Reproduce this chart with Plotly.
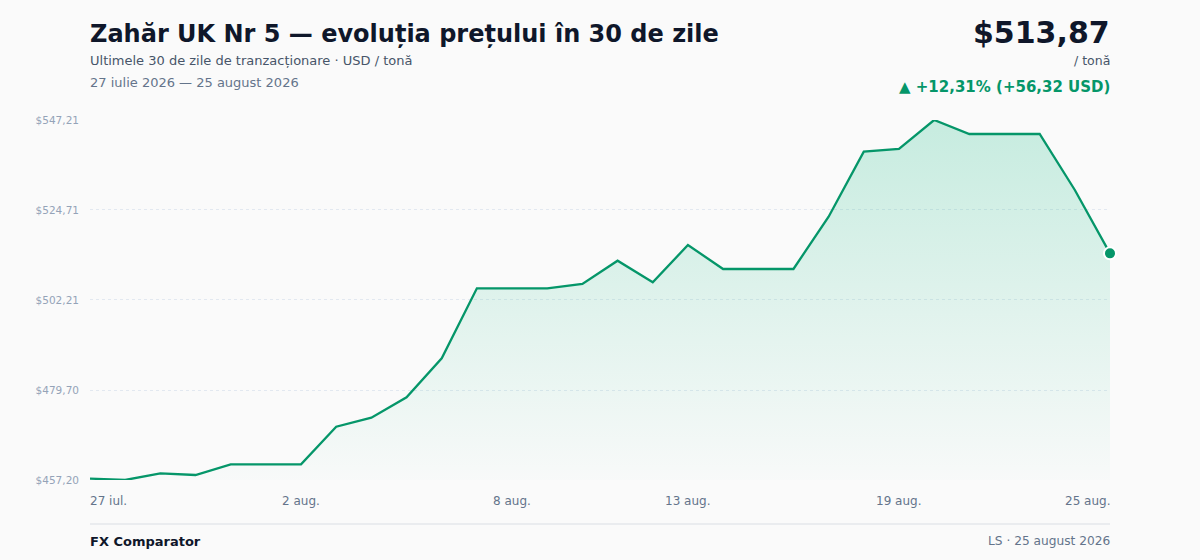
import pandas as pd
import plotly.graph_objects as go

# date de pret - zahar UK Nr 5, USD / tona
dates = pd.date_range("2026-07-27", "2026-08-25", freq="D")
prices = [457.55, 457.20, 458.87, 458.45, 461.11, 461.11, 461.11, 470.53, 472.78, 477.87,
          487.62, 505.13, 505.13, 505.13, 506.21, 512.03, 506.63, 515.95, 509.96, 509.96,
          509.96, 523.03, 539.29, 539.96, 547.21, 543.71, 543.71, 543.71, 529.71, 513.87]

y_ticks = [457.20, 479.70, 502.21, 524.71, 547.21]
y_labels = ["$457,20", "$479,70", "$502,21", "$524,71", "$547,21"]
x_ticks = ["2026-07-27", "2026-08-02", "2026-08-08", "2026-08-13", "2026-08-19", "2026-08-25"]
x_labels = ["27 iul.", "2 aug.", "8 aug.", "13 aug.", "19 aug.", "25 aug."]

GREEN = "#059669"
BG = "#fafafa"
DARK = "#0f172a"
MID = "#475569"
SOFT = "#64748b"
FONT = "DejaVu Sans"
L, R, T, B = 90, 90, 120, 80
H = 560
PH = H - T - B


def py(pix):
    # pixel y -> paper y
    return (H - B - pix) / PH


fig = go.Figure()

fig.add_trace(go.Scatter(
    x=dates, y=prices, mode="lines",
    line=dict(color=GREEN, width=2.3),
    fill="tozeroy",
    fillgradient=dict(type="vertical", start=y_ticks[0], stop=y_ticks[-1],
                      colorscale=[[0, "rgba(16,185,129,0.01)"], [1, "rgba(16,185,129,0.22)"]]),
    hoverinfo="skip", showlegend=False,
))

fig.add_trace(go.Scatter(
    x=[dates[-1]], y=[prices[-1]], mode="markers",
    marker=dict(size=12, color=GREEN, line=dict(color="white", width=2)),
    cliponaxis=False, hoverinfo="skip", showlegend=False,
))

ann = []
for i, (tv, tl) in enumerate(zip(x_ticks, x_labels)):
    anchor = "left" if i == 0 else ("right" if i == len(x_ticks) - 1 else "center")
    shift = -2 if i == 0 else (2 if i == len(x_ticks) - 1 else 0)
    ann.append(dict(x=tv, xref="x", y=py(501), yref="paper", text=tl, showarrow=False,
                    xanchor=anchor, yanchor="middle", xshift=shift,
                    font=dict(size=12, color=SOFT)))


def left(text, y, size, color):
    return dict(x=0, xref="paper", y=py(y), yref="paper", xanchor="left", yanchor="middle",
                xshift=-2, text=text, showarrow=False, font=dict(size=size, color=color))


def right(text, y, size, color):
    return dict(x=1, xref="paper", y=py(y), yref="paper", xanchor="right", yanchor="middle",
                xshift=2, text=text, showarrow=False, font=dict(size=size, color=color))


ann += [
    left("<b>Zahăr UK Nr 5 — evoluția prețului în 30 de zile</b>", 34, 24, DARK),
    left("Ultimele 30 de zile de tranzacționare · USD / tonă", 61, 13, MID),
    left("27 iulie 2026 — 25 august 2026", 83, 13, SOFT),
    right("<b>$513,87</b>", 32, 30, DARK),
    right("/ tonă", 61, 12.5, MID),
    right("<b>▲ +12,31% (+56,32 USD)</b>", 87, 15, GREEN),
    left("<b>FX Comparator</b>", 541, 13, DARK),
    right("LS · 25 august 2026", 541, 12.2, SOFT),
]

fig.update_layout(
    width=1200, height=H,
    margin=dict(l=L, r=R, t=T, b=B),
    paper_bgcolor=BG, plot_bgcolor=BG,
    font=dict(family=FONT, color=DARK),
    annotations=ann,
    shapes=[dict(type="line", xref="paper", x0=0, x1=1, yref="paper", y0=py(524), y1=py(524),
                 line=dict(color="#e5e7eb", width=1.5))],
)

fig.update_xaxes(range=[dates[0], dates[-1]], showgrid=False, showticklabels=False,
                 zeroline=False, showline=False, ticks="")
fig.update_yaxes(range=[y_ticks[0], y_ticks[-1]], tickvals=y_ticks, ticktext=y_labels,
                 showgrid=True, gridcolor="#e2e8f0", griddash="dot", gridwidth=1,
                 zeroline=False, showline=False, ticks="", ticklabelstandoff=10,
                 tickfont=dict(size=10.5, color="#94a3b8"))

fig.write_html("out.html", config={"displayModeBar": False},
               post_script="document.body.style.margin='0';document.body.style.background='%s';" % BG)
